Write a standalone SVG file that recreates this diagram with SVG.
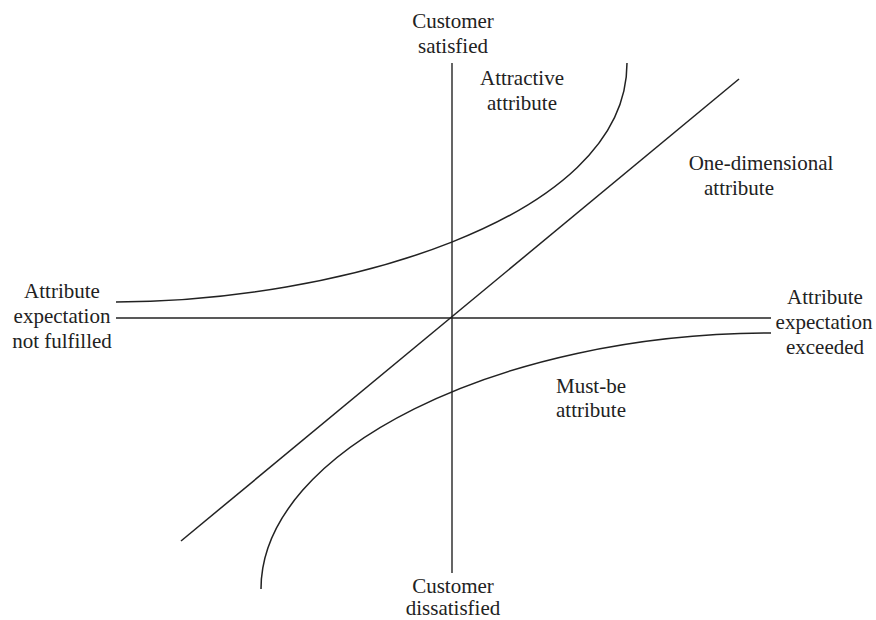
<svg xmlns="http://www.w3.org/2000/svg" width="876" height="620" viewBox="0 0 876 620">
<style>
text{font-family:"Liberation Serif","Times New Roman","DejaVu Serif",serif;font-size:21px;fill:#222;}
.m{text-anchor:middle;}
.ln{fill:none;stroke:#222;stroke-width:1.5;}
.ax{fill:none;stroke:#555;stroke-width:1.8;}
</style>
<rect width="876" height="620" fill="#fff"/>
<g id="connectors">
<line class="ax" x1="452" y1="63" x2="452" y2="573"/>
<line class="ln" x1="116" y1="318" x2="771" y2="318"/>
<line class="ln" x1="181" y1="541" x2="739" y2="79"/>
<path id="attractive-curve" class="ln" d="M116,302 C330,302 627,222 627,63"/>
<path id="mustbe-curve" class="ln" d="M261,589 C261,450 500,333 771,333"/>
</g>
<g id="customer-satisfied"><text class="m" x="453" y="28">Customer</text><text class="m" x="453" y="53">satisfied</text></g>
<g id="attractive"><text class="m" x="522" y="85">Attractive</text><text class="m" x="522" y="110">attribute</text></g>
<g id="one-dimensional"><text class="m" x="761" y="170">One-dimensional</text><text class="m" x="739" y="195">attribute</text></g>
<g id="not-fulfilled"><text class="m" x="62" y="298">Attribute</text><text class="m" x="62" y="323">expectation</text><text class="m" x="62" y="348">not fulfilled</text></g>
<g id="exceeded"><text class="m" x="825" y="304">Attribute</text><text class="m" x="824" y="329">expectation</text><text class="m" x="825" y="354">exceeded</text></g>
<g id="must-be"><text class="m" x="591" y="393">Must-be</text><text class="m" x="591" y="417">attribute</text></g>
<g id="customer-dissatisfied"><text class="m" x="453" y="593">Customer</text><text class="m" x="453" y="615">dissatisfied</text></g>
</svg>
